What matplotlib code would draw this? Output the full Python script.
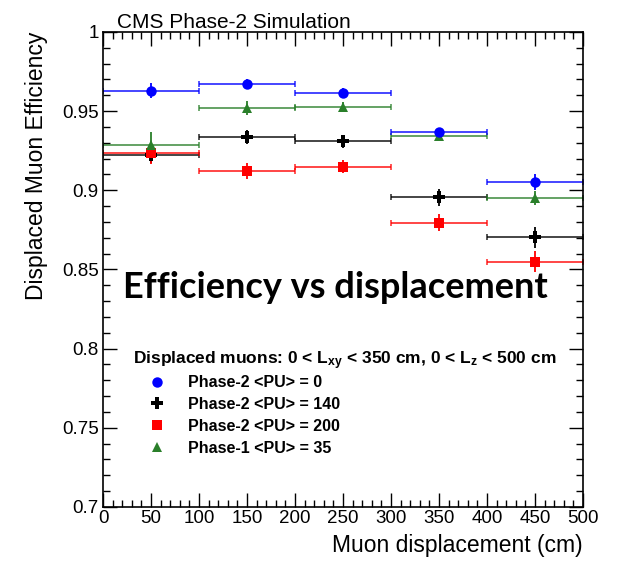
import matplotlib
matplotlib.use('Agg')
import matplotlib.pyplot as plt
from matplotlib.lines import Line2D
from matplotlib.ticker import MultipleLocator, FixedFormatter, FixedLocator

plt.rcParams['font.family'] = ['Liberation Sans', 'DejaVu Sans']
plt.rcParams['mathtext.fontset'] = 'custom'
plt.rcParams['mathtext.rm'] = 'Liberation Sans'
plt.rcParams['mathtext.bf'] = 'Liberation Sans:bold'
plt.rcParams['mathtext.it'] = 'Liberation Sans:italic'

# displacement bins (cm)
bin_centers = [50, 150, 250, 350, 450]
bin_halfwidth = [50, 50, 50, 50, 50]

# efficiencies per bin with statistical errors
eff_pu0 = [0.9630, 0.9670, 0.9617, 0.9366, 0.9055]
err_pu0 = [0.0050, 0.0030, 0.0030, 0.0030, 0.0050]
eff_pu140 = [0.9225, 0.9339, 0.9310, 0.8956, 0.8703]
err_pu140 = [0.0050, 0.0045, 0.0040, 0.0055, 0.0065]
eff_pu200 = [0.9234, 0.9122, 0.9150, 0.8796, 0.8550]
err_pu200 = [0.0070, 0.0050, 0.0040, 0.0055, 0.0065]
eff_phase1 = [0.9286, 0.9522, 0.9528, 0.9340, 0.8953]
err_phase1 = [0.0080, 0.0045, 0.0030, 0.0030, 0.0045]

labels = ['Phase-2 <PU> = 0', 'Phase-2 <PU> = 140',
          'Phase-2 <PU> = 200', 'Phase-1 <PU> = 35']

fig = plt.figure(figsize=(6.19, 5.63), dpi=100)
ax = fig.add_axes([0.1664, 0.0995, 0.7754, 0.8437])

green = '#2a7f2a'
series = [
    (eff_pu140, err_pu140, 'black', 'P', 8),
    (eff_pu200, err_pu200, 'red', 's', 7),
    (eff_phase1, err_phase1, green, '^', 6.5),
    (eff_pu0, err_pu0, 'blue', 'o', 7.5),
]
for eff, err, col, mk, ms in series:
    ax.errorbar(bin_centers, eff, xerr=bin_halfwidth, fmt='none', ecolor=col,
                elinewidth=1.2, capsize=2, capthick=1.1, alpha=0.85)
    ax.errorbar(bin_centers, eff, yerr=err, fmt=mk, color=col, ms=ms,
                elinewidth=1.3, capsize=0, mew=0)

ax.set_xlim(0, 500)
ax.set_ylim(0.7, 1.0)
ax.xaxis.set_major_locator(MultipleLocator(50))
ax.xaxis.set_minor_locator(MultipleLocator(10))
yt = [0.7, 0.75, 0.8, 0.85, 0.9, 0.95, 1.0]
ax.yaxis.set_major_locator(FixedLocator(yt))
ax.yaxis.set_major_formatter(FixedFormatter(['0.7', '0.75', '0.8', '0.85', '0.9', '0.95', '1']))
ax.yaxis.set_minor_locator(MultipleLocator(0.01))
ax.tick_params(which='both', direction='in', top=True, right=True, labelsize=13.5)
ax.tick_params(which='major', length=10, width=1)
ax.tick_params(which='minor', length=5, width=1)
ax.tick_params(axis='x', pad=2)
ax.tick_params(axis='y', pad=3)
for s in ax.spines.values():
    s.set_linewidth(1.2)

ax.set_xlabel('Muon displacement (cm)', fontsize=16.5, loc='right', labelpad=5)
ax.set_ylabel('Displaced Muon Efficiency', fontsize=16.5, loc='top', labelpad=10)
ax.set_title('CMS Phase-2 Simulation', fontsize=15, loc='left', x=0.03, pad=3)

handles = [
    Line2D([], [], ls='none', marker='o', color='blue', ms=7.5, mew=0),
    Line2D([], [], ls='none', marker='P', color='black', ms=8, mew=0),
    Line2D([], [], ls='none', marker='s', color='red', ms=7, mew=0),
    Line2D([], [], ls='none', marker='^', color=green, ms=6.5, mew=0),
]
leg = ax.legend(handles, labels, loc='upper left', bbox_to_anchor=(0.05, 0.3445),
                frameon=False, prop={'weight': 'bold', 'size': 11.5},
                title=r'Displaced muons: 0 < L$_{\mathbf{xy}}$ < 350 cm, 0 < L$_{\mathbf{z}}$ < 500 cm',
                title_fontproperties={'weight': 'bold', 'size': 12.5},
                alignment='left', handletextpad=0.5, labelspacing=0.43,
                borderaxespad=0, handlelength=2.9)
leg._legend_box.sep = 2

fig.text(0.541, 0.49, 'Efficiency vs displacement', fontsize=26, fontweight='bold',
         family=['Lato', 'DejaVu Sans'], ha='center', va='center')

fig.savefig('out.png', dpi=100)
